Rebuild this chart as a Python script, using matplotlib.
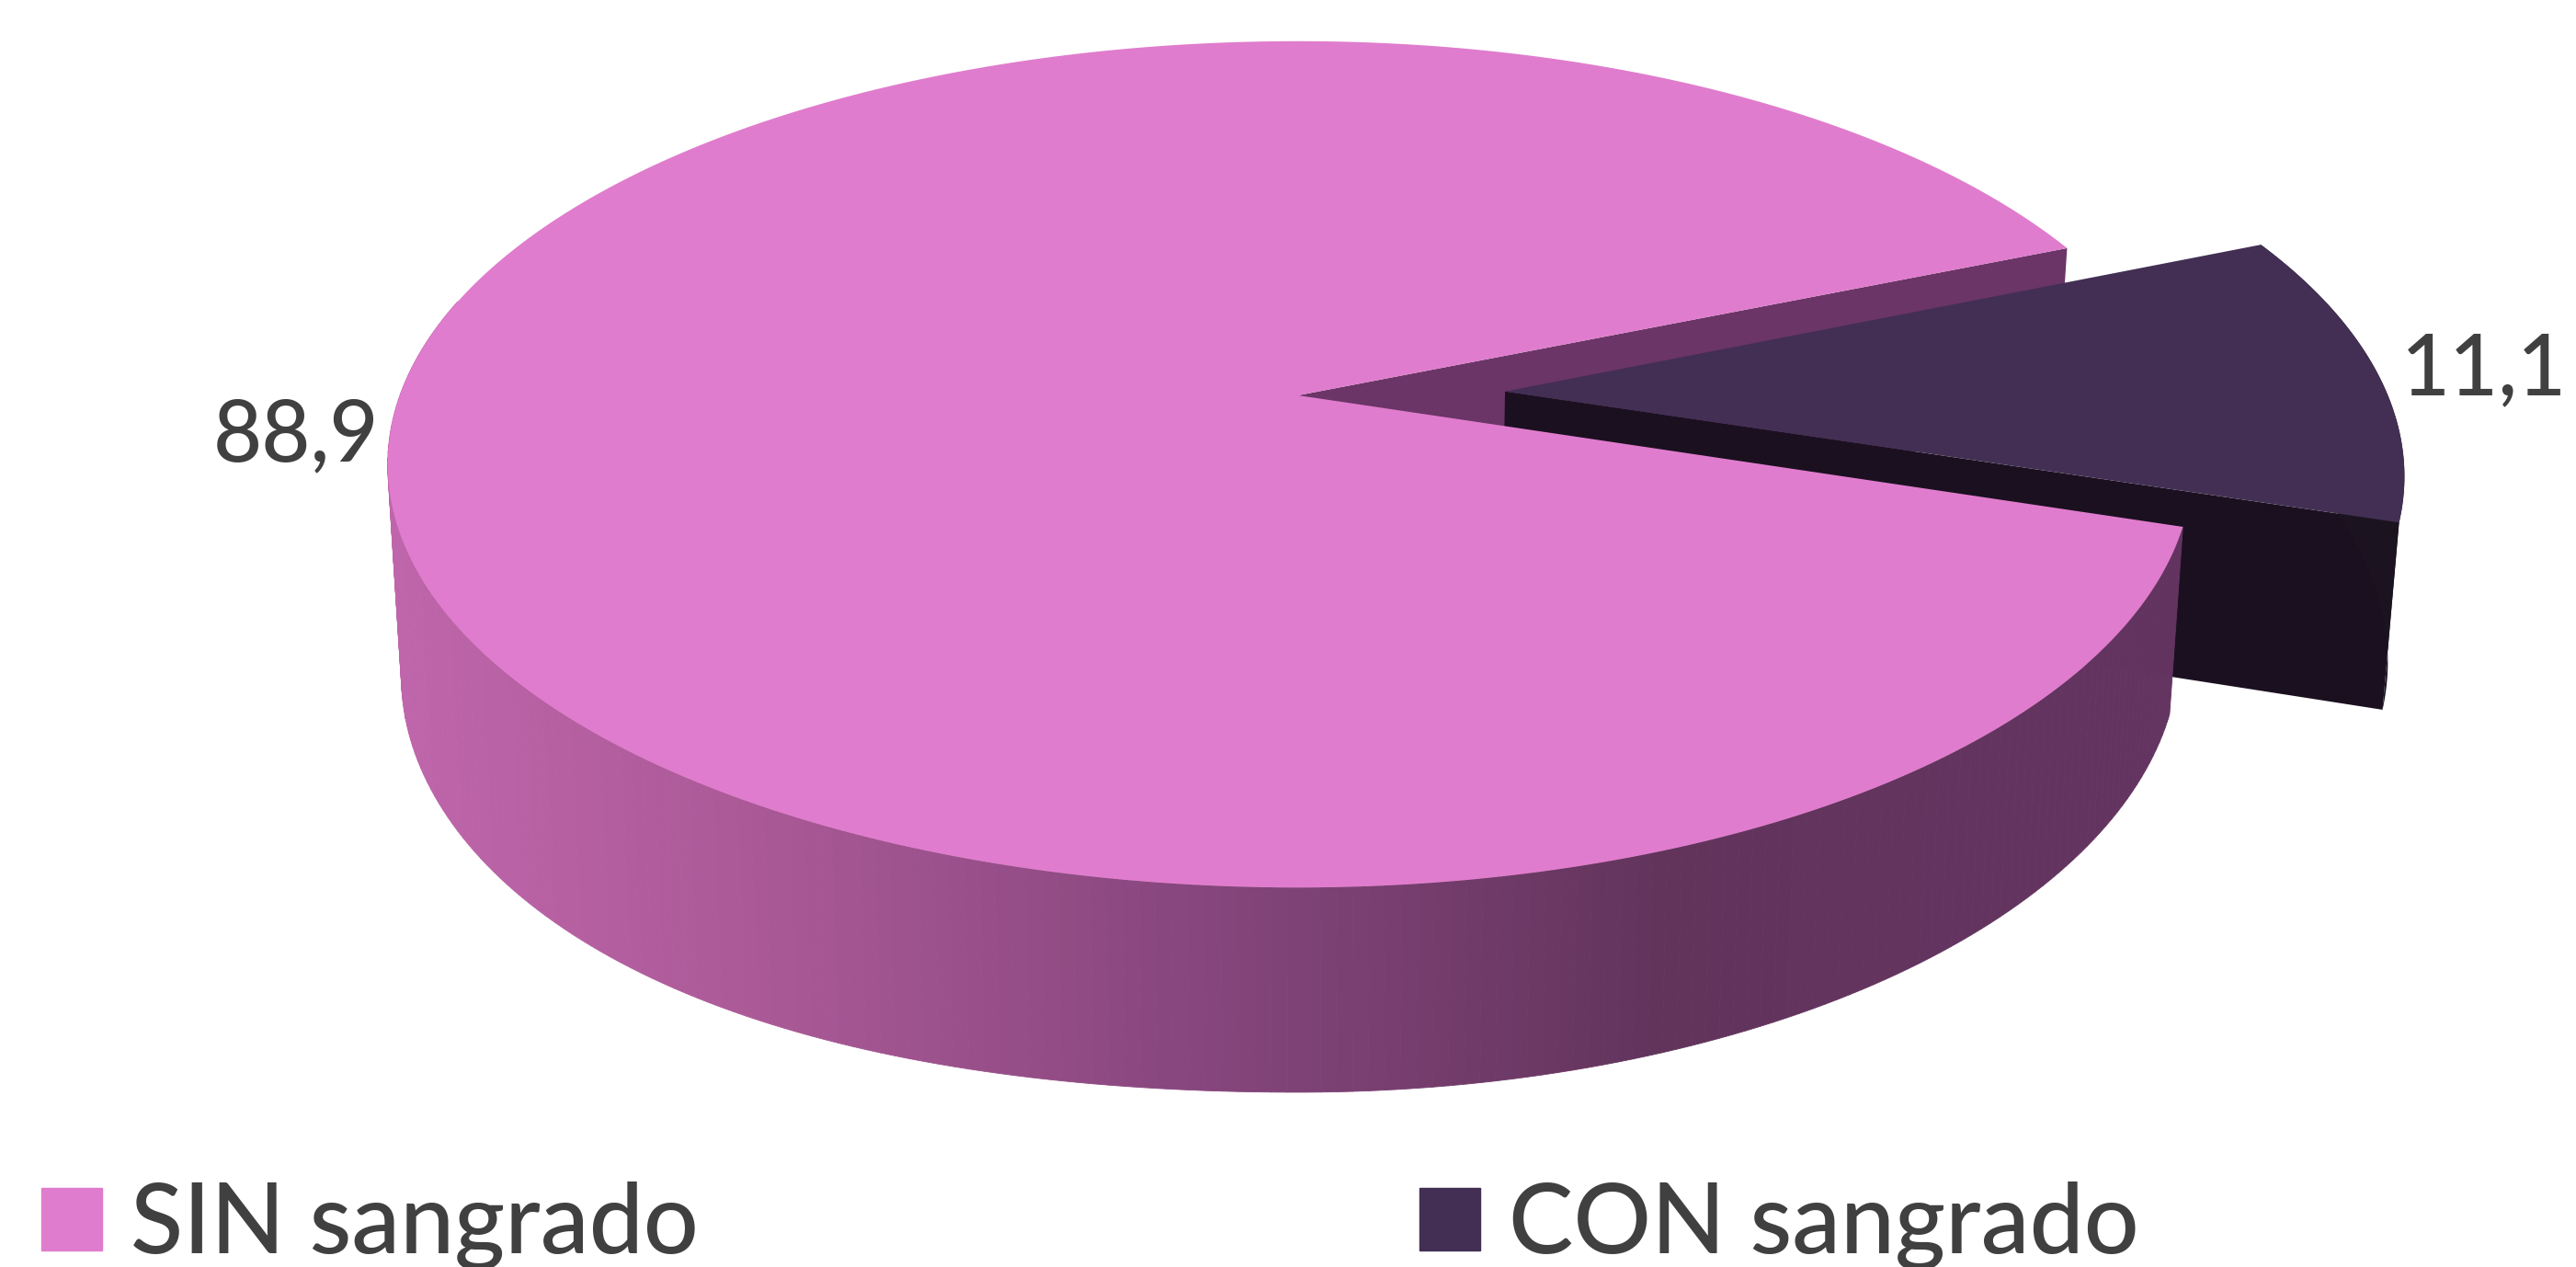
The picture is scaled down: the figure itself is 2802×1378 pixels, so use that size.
import numpy as np
import matplotlib
matplotlib.use("Agg")
import matplotlib.pyplot as plt
from matplotlib.patches import Patch, Polygon
from matplotlib.collections import PolyCollection

plt.rcParams['font.family'] = ['Lato', 'DejaVu Sans']

categories = ["SIN sangrado", "CON sangrado"]
values = [88.9, 11.1]
value_labels = ["88,9", "11,1"]
top_colors = ["#e07ccd", "#432f54"]

# pie geometry, in pixels of the 2802x1378 canvas
apex_x, apex_y = 1412, 430
radius_left, radius_right = 977, 960
radius_y = 448
persp = 0.163
explode = 0.235
wall_scale = 0.985
wall_slope = 1.048
wall_drop = 197
wall_tilt = 30
slice_start = 22.3  # degrees, upper edge of the small slice


def project(u, v, bottom=False):
    # disc coordinates to canvas, with a simple perspective divide
    w = 1 + persp * v
    x = np.where(u < 0, radius_left, radius_right) * u / w
    y = -radius_y * v / w
    if bottom:
        x = x * wall_scale
        # left side of the pie sits a little deeper, eased in so the rim stays smooth
        s = np.clip(-u / 0.9, 0, 1)
        y = y * wall_slope + wall_drop + wall_tilt * s * s * (3 - 2 * s)
    return apex_x + x, apex_y + y


def arc(a0, a1, n=200):
    t = np.radians(np.linspace(a0, a1, n))
    return np.cos(t), np.sin(t)


def ring(u, v, bottom=False):
    x, y = project(u, v, bottom)
    return np.column_stack([x, y])


small_span = values[1] / sum(values) * 360
a_top = slice_start
a_low = slice_start - small_span
a_mid = (a_top + a_low) / 2
off_u = explode * np.cos(np.radians(a_mid))
off_v = explode * np.sin(np.radians(a_mid))

fig = plt.figure(figsize=(28.02, 13.78), dpi=100)
ax = fig.add_axes([0, 0, 1, 1])
ax.set_xlim(0, 2802)
ax.set_ylim(1378, 0)
ax.axis("off")

# back wall of the big slice, seen through the gap
u_e, v_e = np.cos(np.radians(a_top)), np.sin(np.radians(a_top))
wall = np.vstack([ring(np.array([0, u_e]), np.array([0, v_e])),
                  ring(np.array([u_e, 0]), np.array([v_e, 0]), True)])
ax.add_patch(Polygon(wall, closed=True, fc="#6b3567", ec="none", zorder=1))

# small slice, walls first
u_s, v_s = arc(a_low, a_top)
u_s = u_s + off_u
v_s = v_s + off_v
low_u = np.array([off_u, u_s[0]])
low_v = np.array([off_v, v_s[0]])
low_wall = np.vstack([ring(low_u, low_v), ring(low_u[::-1], low_v[::-1], True)])
ax.add_patch(Polygon(low_wall, closed=True, fc="#1b1020", ec="none", zorder=2))
arc_wall = np.vstack([ring(u_s, v_s), ring(u_s[::-1], v_s[::-1], True)])
ax.add_patch(Polygon(arc_wall, closed=True, fc="#1b1420", ec="none", zorder=2))
tip_u = np.concatenate([[off_u], u_s])
tip_v = np.concatenate([[off_v], v_s])
ax.add_patch(Polygon(ring(tip_u, tip_v), closed=True, fc=top_colors[1], ec="none", zorder=3))

# outer wall of the big slice as shaded strips, light on the left to dark on the right
a_edges = np.linspace(a_top, a_low + 360, 361)
strip_polys = []
strip_cols = []
stops_x = [420, 800, 1300, 1800, 2380]
stops_c = np.array([[192, 102, 172], [172, 90, 152], [135, 70, 125], [98, 52, 92], [100, 52, 97]]) / 255
for a0, a1 in zip(a_edges[:-1], a_edges[1:]):
    us, vs = arc(a0, a1, 3)
    if vs.max() > 0.25:
        continue
    strip = np.vstack([ring(us, vs), ring(us[::-1], vs[::-1], True)])
    xm = strip[:, 0].mean()
    strip_polys.append(strip)
    strip_cols.append([np.interp(xm, stops_x, stops_c[:, i]) for i in range(3)])
ax.add_collection(PolyCollection(strip_polys, facecolors=strip_cols, edgecolors=strip_cols, linewidths=0.6, zorder=4))

# top face of the big slice
u_m, v_m = arc(a_top, a_low + 360, 600)
ax.add_patch(Polygon(ring(np.concatenate([[0], u_m]), np.concatenate([[0], v_m])),
                     closed=True, fc=top_colors[0], ec="none", zorder=5))

ax.text(412, 475, value_labels[0], ha="right", va="center", fontsize=66, fontweight="medium", color="#404040", zorder=6)
ax.text(2612, 403, value_labels[1], ha="left", va="center", fontsize=66, fontweight="medium", color="#404040", zorder=6)

handles = [Patch(color=c) for c in top_colors]
leg = ax.legend(handles, categories, loc="lower left", bbox_to_anchor=(0.016, -0.003), ncol=2,
                frameon=False, prop={"size": 76, "weight": "medium"}, labelcolor="#404040",
                handlelength=0.625, handleheight=0.625,
                handletextpad=0.3, columnspacing=7.42, borderpad=0, borderaxespad=0)

fig.savefig("out.png", dpi=100, facecolor="white")
